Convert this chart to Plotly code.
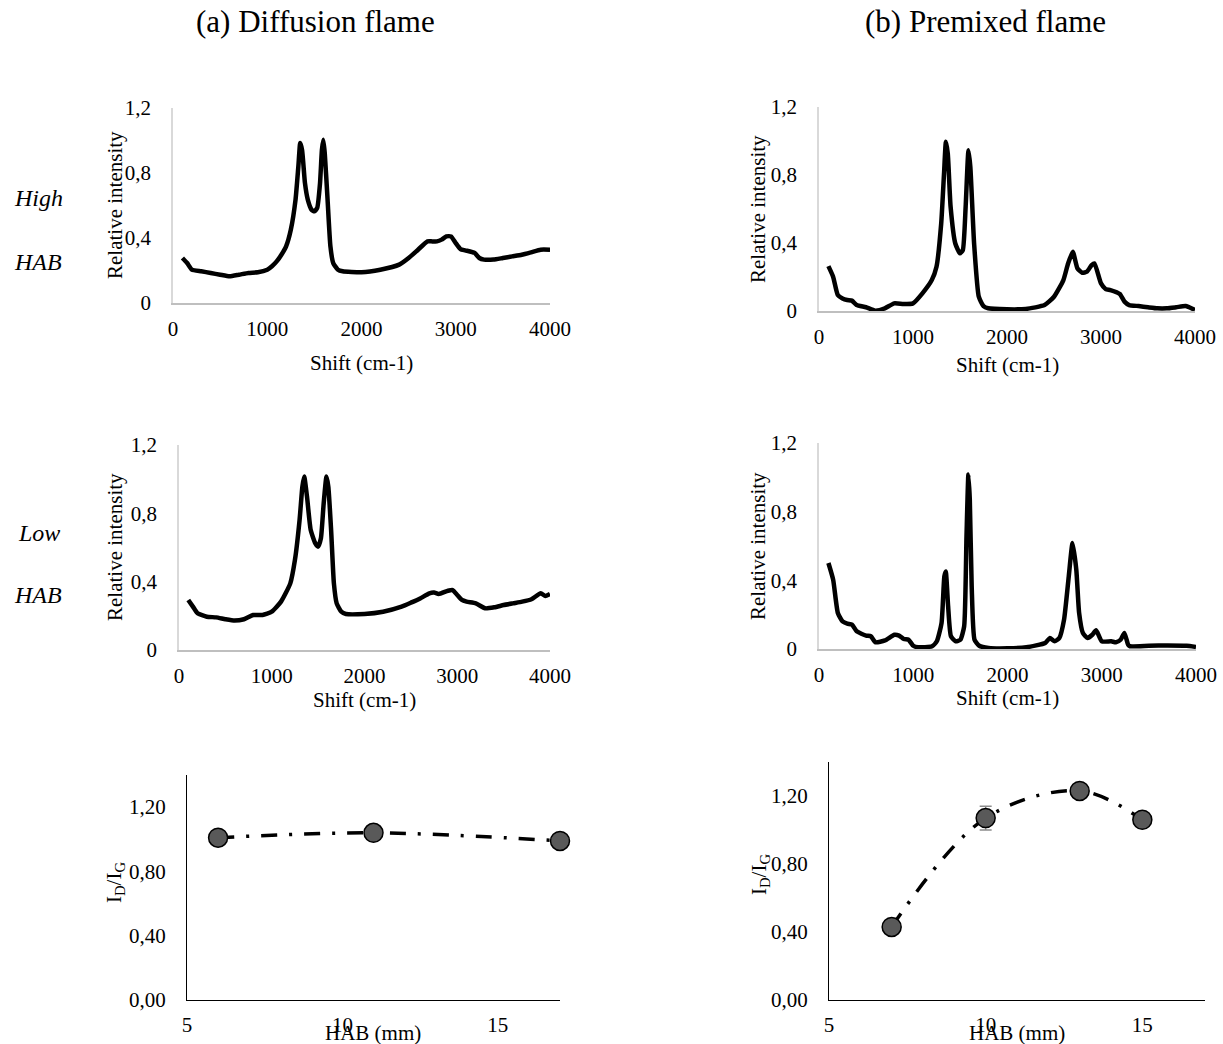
import plotly.graph_objects as go

# ---------------- data ----------------
# (a) diffusion flame, high HAB
dh_x = [100, 150, 200, 300, 400, 500, 600, 700, 800, 900, 1000, 1050, 1100, 1150, 1200, 1250, 1300, 1330, 1350, 1370,
        1400, 1430, 1470, 1500, 1530, 1560, 1580, 1595, 1610, 1640, 1670, 1700, 1750, 1800, 2000, 2200, 2400, 2500,
        2600, 2700, 2750, 2800, 2850, 2900, 2950, 3000, 3050, 3100, 3200, 3250, 3300, 3400, 3500, 3600, 3700, 3800,
        3900, 4000]
dh_y = [0.277, 0.246, 0.205, 0.195, 0.185, 0.174, 0.164, 0.174, 0.185, 0.189, 0.205, 0.226, 0.256, 0.297, 0.349, 0.451,
        0.636, 0.84, 0.985, 0.94, 0.738, 0.636, 0.574, 0.564, 0.585, 0.738, 0.944, 1.005, 0.923, 0.636, 0.349, 0.246,
        0.205, 0.195, 0.189, 0.205, 0.236, 0.277, 0.328, 0.379, 0.379, 0.379, 0.39, 0.41, 0.41, 0.369, 0.332, 0.324,
        0.308, 0.277, 0.267, 0.267, 0.277, 0.287, 0.297, 0.312, 0.328, 0.328]

# (b) premixed flame, high HAB
ph_x = [100, 150, 200, 250, 300, 350, 400, 500, 600, 700, 800, 900, 1000, 1100, 1200, 1250, 1300, 1330, 1350, 1370,
        1400, 1450, 1500, 1530, 1560, 1590, 1610, 1650, 1700, 1750, 1800, 2000, 2200, 2400, 2500, 2600, 2650, 2700,
        2750, 2800, 2850, 2900, 2930, 3000, 3050, 3100, 3200, 3250, 3300, 3400, 3500, 3600, 3700, 3800, 3900, 4000]
ph_y = [0.264, 0.202, 0.094, 0.074, 0.065, 0.061, 0.035, 0.022, 0.002, 0.016, 0.045, 0.041, 0.045, 0.104, 0.182, 0.26,
        0.515, 0.808, 0.995, 0.926, 0.613, 0.397, 0.339, 0.358, 0.613, 0.946, 0.848, 0.397, 0.084, 0.029, 0.016, 0.01,
        0.012, 0.035, 0.084, 0.182, 0.28, 0.348, 0.25, 0.225, 0.231, 0.27, 0.28, 0.162, 0.129, 0.123, 0.1, 0.055,
        0.035, 0.029, 0.022, 0.016, 0.016, 0.022, 0.029, 0.006]

# (a) diffusion flame, low HAB
dl_x = [100, 150, 200, 300, 400, 500, 600, 700, 800, 900, 1000, 1100, 1200, 1250, 1300, 1330, 1350, 1380, 1420, 1470,
        1500, 1530, 1560, 1590, 1610, 1640, 1670, 1700, 1750, 1800, 2000, 2200, 2400, 2500, 2600, 2700, 2750, 2800,
        2900, 2950, 3000, 3050, 3100, 3200, 3300, 3400, 3500, 3600, 3700, 3800, 3900, 3950, 4000]
dl_y = [0.293, 0.254, 0.215, 0.195, 0.191, 0.18, 0.172, 0.18, 0.205, 0.205, 0.224, 0.283, 0.39, 0.527, 0.761, 0.956,
        1.015, 0.898, 0.702, 0.624, 0.605, 0.654, 0.859, 1.015, 0.956, 0.702, 0.39, 0.273, 0.224, 0.211, 0.211, 0.224,
        0.254, 0.277, 0.302, 0.332, 0.336, 0.328, 0.347, 0.351, 0.322, 0.293, 0.283, 0.273, 0.244, 0.25, 0.263, 0.273,
        0.283, 0.297, 0.332, 0.316, 0.328]

# (b) premixed flame, low HAB
pl_x = [100, 150, 200, 250, 300, 350, 400, 500, 550, 600, 700, 800, 850, 900, 950, 1000, 1050, 1200, 1250, 1300,
        1330, 1345, 1370, 1400, 1450, 1500, 1540, 1565, 1585, 1600, 1620, 1650, 1700, 1800, 2000, 2200, 2400, 2450,
        2500, 2550, 2600, 2650, 2690, 2730, 2760, 2800, 2850, 2900, 2940, 3000, 3100, 3150, 3200, 3240, 3280, 3300,
        3500, 3700, 3900, 4000]
pl_y = [0.501, 0.404, 0.21, 0.161, 0.148, 0.142, 0.103, 0.078, 0.074, 0.039, 0.05, 0.083, 0.078, 0.058, 0.054, 0.019,
        0.01, 0.016, 0.045, 0.151, 0.423, 0.452, 0.249, 0.074, 0.045, 0.054, 0.132, 0.656, 1.016, 0.87, 0.365, 0.054,
        0.019, 0.006, 0.004, 0.01, 0.035, 0.064, 0.045, 0.064, 0.171, 0.423, 0.617, 0.462, 0.21, 0.093, 0.064, 0.083,
        0.109, 0.045, 0.045, 0.039, 0.054, 0.093, 0.025, 0.016, 0.019, 0.021, 0.019, 0.012]

# I_D/I_G ratios vs HAB
diff_hab = [6, 11, 17]
diff_ratio = [1.01, 1.04, 0.99]
prem_hab = [7, 10, 13, 15]
prem_ratio = [0.43, 1.07, 1.23, 1.06]
prem_err = [0, 0.07, 0, 0]

spec_ticks = [0, 0.4, 0.8, 1.2]
spec_ticktext = ["0", "0,4", "0,8", "1,2"]
shift_ticks = [0, 1000, 2000, 3000, 4000]
ratio_ticks = [0, 0.4, 0.8, 1.2]
ratio_ticktext = ["0,00", "0,40", "0,80", "1,20"]
hab_ticks = [5, 10, 15]

# ---------------- figure ----------------
FONT = "Liberation Serif, Times New Roman, serif"
W, H = 1223, 1044

fig = go.Figure()

spectra = [(dh_x, dh_y, "x", "y"), (ph_x, ph_y, "x2", "y2"),
           (dl_x, dl_y, "x3", "y3"), (pl_x, pl_y, "x4", "y4")]
for xs, ys, xa, ya in spectra:
    fig.add_trace(go.Scatter(x=xs, y=ys, xaxis=xa, yaxis=ya, mode="lines",
                             line=dict(color="black", width=4.5, shape="spline", smoothing=0.5),
                             showlegend=False))

marker = dict(size=19, color="#595959", line=dict(color="black", width=1.5))
dash = "16px,12px,3px,12px"
fig.add_trace(go.Scatter(x=diff_hab, y=diff_ratio, xaxis="x5", yaxis="y5", mode="lines+markers",
                         line=dict(color="black", width=3.5, dash=dash, shape="spline"),
                         marker=marker, cliponaxis=False, showlegend=False))
fig.add_trace(go.Scatter(x=prem_hab, y=prem_ratio, xaxis="x6", yaxis="y6", mode="lines+markers",
                         line=dict(color="black", width=3.5, dash=dash, shape="spline"),
                         error_y=dict(type="data", array=prem_err, color="#8c8c8c", thickness=1.5, width=6),
                         marker=marker, cliponaxis=False, showlegend=False))


def px_dom(a, b):
    return [a / W, b / W]


def py_dom(top, bottom):
    return [1 - bottom / H, 1 - top / H]


boxes = {
    1: ((173, 550), (108, 303)),
    2: ((819, 1195), (107, 311)),
    3: ((179, 550), (445, 650)),
    4: ((819, 1196), (443, 649)),
    5: ((187, 560), (775, 1000)),
    6: ((829, 1205), (762, 1000)),
}

tickfont = dict(family=FONT, size=21, color="black")
layout = dict(width=W, height=H, margin=dict(l=0, r=0, t=0, b=0, autoexpand=False), autosize=False,
              paper_bgcolor="white", plot_bgcolor="white", showlegend=False)

for i, ((xa, xb), (yt, yb)) in boxes.items():
    xk = "xaxis" if i == 1 else f"xaxis{i}"
    yk = "yaxis" if i == 1 else f"yaxis{i}"
    anchor_x = "y" if i == 1 else f"y{i}"
    anchor_y = "x" if i == 1 else f"x{i}"
    common = dict(showgrid=False, zeroline=False, showline=True, ticks="",
                  tickfont=tickfont, automargin=False)
    if i <= 4:
        layout[xk] = dict(domain=px_dom(xa, xb), anchor=anchor_x, range=[0, 4000],
                          tickvals=shift_ticks, linecolor="#bfbfbf", linewidth=1.5,
                          ticklabelstandoff=6, **common)
        layout[yk] = dict(domain=py_dom(yt, yb), anchor=anchor_y, range=[0, 1.2],
                          tickvals=spec_ticks, ticktext=spec_ticktext,
                          linecolor="#d9d9d9", linewidth=1.5, ticklabelstandoff=16, **common)
    else:
        layout[xk] = dict(domain=px_dom(xa, xb), anchor=anchor_x, range=[5, 17],
                          tickvals=hab_ticks, linecolor="black", linewidth=1.2,
                          ticklabelstandoff=6, **common)
        layout[yk] = dict(domain=py_dom(yt, yb), anchor=anchor_y, range=[0, 1.4],
                          tickvals=ratio_ticks, ticktext=ratio_ticktext,
                          linecolor="black", linewidth=1.2, ticklabelstandoff=16, **common)

fig.update_layout(**layout)


def ann(text, x, y, size=21, angle=0, xanchor="center"):
    fig.add_annotation(text=text, x=x / W, y=1 - y / H, xref="paper", yref="paper",
                       showarrow=False, textangle=angle, xanchor=xanchor, yanchor="middle",
                       font=dict(family=FONT, size=size, color="black"))


ann("(a) Diffusion flame", 315, 22, size=31)
ann("(b) Premixed flame", 985, 22, size=31)
ann("<i>High</i>", 12, 198, size=24, xanchor="left")
ann("<i>HAB</i>", 12, 262, size=24, xanchor="left")
ann("<i>Low</i>", 16, 533, size=24, xanchor="left")
ann("<i>HAB</i>", 12, 595, size=24, xanchor="left")

ann("Relative intensity", 115, 205, angle=-90)
ann("Shift (cm-1)", 361, 363)
ann("Relative intensity", 758, 209, angle=-90)
ann("Shift (cm-1)", 1007, 365)
ann("Relative intensity", 115, 547, angle=-90)
ann("Shift (cm-1)", 364, 700)
ann("Relative intensity", 758, 546, angle=-90)
ann("Shift (cm-1)", 1007, 698)
ann("I<sub>D</sub>/I<sub>G</sub>", 115, 883, angle=-90)
ann("HAB (mm)", 373, 1033)
ann("I<sub>D</sub>/I<sub>G</sub>", 760, 875, angle=-90)
ann("HAB (mm)", 1017, 1033)

fig.write_html("out.html")
